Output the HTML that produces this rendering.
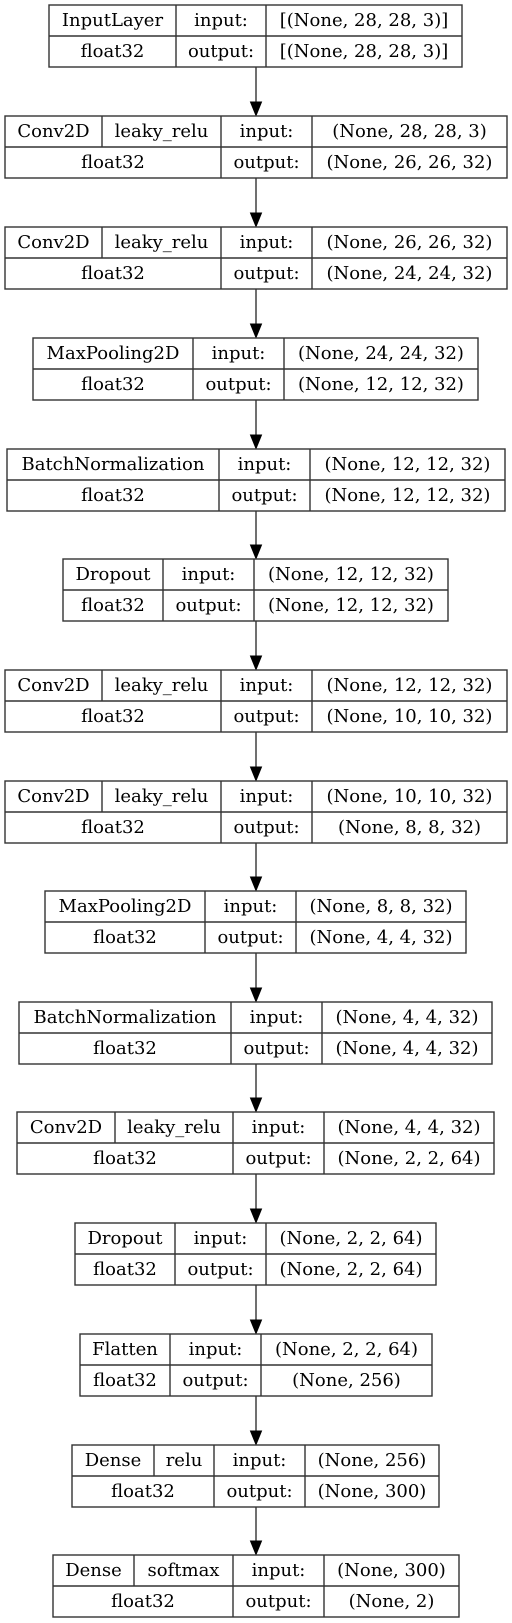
<!DOCTYPE html>
<html><head><meta charset="utf-8">
<style>
html,body{margin:0;padding:0;background:#fff;}
svg{display:block;}
text{font-family:"DejaVu Serif","Liberation Serif",serif;font-size:18px;fill:#000;text-anchor:middle;}
</style></head>
<body>
<svg id="g" width="512" height="1623" viewBox="0 0 512 1623" xmlns="http://www.w3.org/2000/svg"></svg>
<script>
const layerNames = ["InputLayer","Conv2D","Conv2D","MaxPooling2D","BatchNormalization","Dropout","Conv2D","Conv2D","MaxPooling2D","BatchNormalization","Conv2D","Dropout","Flatten","Dense","Dense"];
const activations = [null,"leaky_relu","leaky_relu",null,null,null,"leaky_relu","leaky_relu",null,null,"leaky_relu",null,null,"relu","softmax"];
const inputShapes = ["[(None, 28, 28, 3)]","(None, 28, 28, 3)","(None, 26, 26, 32)","(None, 24, 24, 32)","(None, 12, 12, 32)","(None, 12, 12, 32)","(None, 12, 12, 32)","(None, 10, 10, 32)","(None, 8, 8, 32)","(None, 4, 4, 32)","(None, 4, 4, 32)","(None, 2, 2, 64)","(None, 2, 2, 64)","(None, 256)","(None, 300)"];
const outputShapes = ["[(None, 28, 28, 3)]","(None, 26, 26, 32)","(None, 24, 24, 32)","(None, 12, 12, 32)","(None, 12, 12, 32)","(None, 12, 12, 32)","(None, 10, 10, 32)","(None, 8, 8, 32)","(None, 4, 4, 32)","(None, 4, 4, 32)","(None, 2, 2, 64)","(None, 2, 2, 64)","(None, 256)","(None, 300)","(None, 2)"];
const dtypes = ["float32","float32","float32","float32","float32","float32","float32","float32","float32","float32","float32","float32","float32","float32","float32"];
// layout geometry (not data)
const boxLeft  = [49,5,5,33,7,63,5,5,45,19,17,75,80,72,53];
const boxRight = [462,507,507,478,505,448,507,507,466,492,494,436,432,439,459];
const actDiv   = [0,102,102,0,0,0,102,102,0,0,115,0,0,154,134];
const col1     = [176,221,221,193,219,163,221,221,205,231,233,175,170,214,233];
const col2     = [266,312,312,284,310,254,312,312,296,322,324,266,261,305,324];
const boxTop   = [5,116,227,338,449,559,670,781,891,1002,1112,1223,1334,1445,1555];
const H = 62, CX = 256;
const svg = document.getElementById('g');
const NS = "http://www.w3.org/2000/svg";
function mk(tag, attrs){const e=document.createElementNS(NS,tag);for(const k in attrs)e.setAttribute(k,attrs[k]);svg.appendChild(e);return e;}
function txt(x,y,s){const t=mk('text',{x:x,y:y});t.textContent=s;return t;}
function ln(x1,y1,x2,y2){return mk('line',{x1:x1,y1:y1,x2:x2,y2:y2,stroke:'#333',"stroke-width":1.4});}
for(let i=0;i<layerNames.length;i++){
  const x0=boxLeft[i],x1=boxRight[i],y=boxTop[i],c1=col1[i],c2=col2[i],mid=y+H/2;
  const r=mk('rect',{x:x0,y:y,width:x1-x0,height:H,fill:'#fff',stroke:'#333',"stroke-width":1.4});
  
  
  ln(x0,mid,x1,mid); ln(c1,y,c1,y+H); ln(c2,y,c2,y+H);
  let t;
  if(activations[i]){
    ln(actDiv[i],y,actDiv[i],mid);
    t=txt((x0+actDiv[i])/2,y+21,layerNames[i]);
    
    
    t=txt((actDiv[i]+c1)/2,y+21,activations[i]);
    
    
  } else {
    t=txt((x0+c1)/2,y+21,layerNames[i]);
    
    
  }
  t=txt((x0+c1)/2,y+52,dtypes[i]);
  
  
  t=txt((c1+c2)/2,y+21,"input:");
  
  
  t=txt((c1+c2)/2,y+52,"output:");
  
  
  t=txt((c2+x1)/2,y+21,inputShapes[i]);
  
  
  t=txt((c2+x1)/2,y+52,outputShapes[i]);
  
  
  if(i<layerNames.length-1){
    const yb=y+H, yn=boxTop[i+1];
    const a=ln(CX,yb,CX,yn-12);
    
    
    const p=mk('polygon',{points:(CX-5.5)+','+(yn-14)+' '+(CX+5.5)+','+(yn-14)+' '+CX+','+(yn-0.5),fill:'#000',stroke:'#000',"stroke-width":1});
    
    
  }
}
</script>
</body></html>
